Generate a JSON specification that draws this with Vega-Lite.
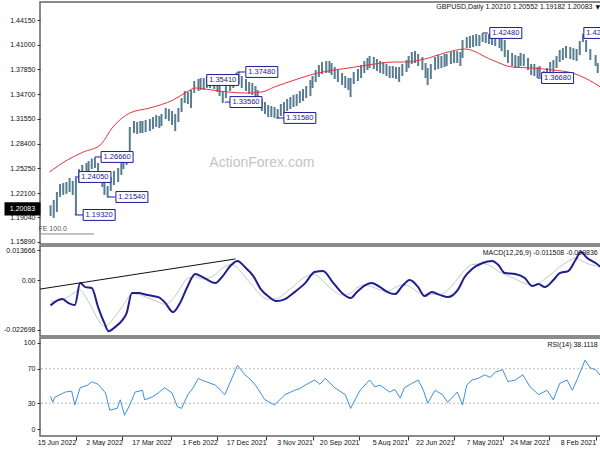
{
"$schema":"https://vega.github.io/schema/vega-lite/v6.json",
"padding":{"left":0,"top":1,"right":2,"bottom":0},
"background":"white",
"spacing":2,
"bounds":"flush",
"config":{"view":{"stroke":"#666666","strokeWidth":1.5},"font":"Liberation Sans","axis":{"labelFont":"Liberation Sans","labelFontSize":7,"labelColor":"#111111","tickColor":"#333333","tickSize":3,"domain":false,"grid":false,"labelPadding":2,"labelOverlap":false,"minExtent":35,"maxExtent":35}},
"datasets":{
"price":[
{"d":"2021-02-02","h":1.3791,"l":1.3638},{"d":"2021-02-06","h":1.3867,"l":1.3740},{"d":"2021-02-08","h":1.3969,"l":1.3829},{"d":"2021-02-13","h":1.4046,"l":1.3906},{"d":"2021-02-17","h":1.4160,"l":1.4008},{"d":"2021-02-20","h":1.4240,"l":1.4135},{"d":"2021-02-23","h":1.4148,"l":1.3969},{"d":"2021-02-26","h":1.4046,"l":1.3893},{"d":"2021-03-01","h":1.4058,"l":1.3906},{"d":"2021-03-04","h":1.4071,"l":1.3918},{"d":"2021-03-08","h":1.4084,"l":1.3931},{"d":"2021-03-11","h":1.4058,"l":1.3906},{"d":"2021-03-14","h":1.4033,"l":1.3880},{"d":"2021-03-17","h":1.3957,"l":1.3804},{"d":"2021-03-20","h":1.3906,"l":1.3753},{"d":"2021-03-23","h":1.3880,"l":1.3727},{"d":"2021-03-26","h":1.3804,"l":1.3664},{"d":"2021-03-29","h":1.3765,"l":1.3669},{"d":"2021-04-02","h":1.3829,"l":1.3689},{"d":"2021-04-04","h":1.3816,"l":1.3676},{"d":"2021-04-07","h":1.3855,"l":1.3702},{"d":"2021-04-10","h":1.3855,"l":1.3715},{"d":"2021-04-13","h":1.3931,"l":1.3778},{"d":"2021-04-17","h":1.3982,"l":1.3829},{"d":"2021-04-20","h":1.3995,"l":1.3829},{"d":"2021-04-22","h":1.3957,"l":1.3804},{"d":"2021-04-25","h":1.3969,"l":1.3804},{"d":"2021-04-28","h":1.3995,"l":1.3829},{"d":"2021-05-02","h":1.4033,"l":1.3867},{"d":"2021-05-05","h":1.4160,"l":1.3944},{"d":"2021-05-08","h":1.4173,"l":1.4020},{"d":"2021-05-10","h":1.4211,"l":1.4058},{"d":"2021-05-14","h":1.4237,"l":1.4084},{"d":"2021-05-17","h":1.4230,"l":1.4097},{"d":"2021-05-20","h":1.4237,"l":1.4109},{"d":"2021-05-23","h":1.4237,"l":1.4122},{"d":"2021-05-26","h":1.4248,"l":1.4135},{"d":"2021-05-29","h":1.4224,"l":1.4084},{"d":"2021-06-01","h":1.4237,"l":1.4084},{"d":"2021-06-04","h":1.4224,"l":1.4071},{"d":"2021-06-07","h":1.4211,"l":1.4058},{"d":"2021-06-10","h":1.4199,"l":1.4058},{"d":"2021-06-14","h":1.4160,"l":1.3931},{"d":"2021-06-16","h":1.4008,"l":1.3829},{"d":"2021-06-19","h":1.4020,"l":1.3867},{"d":"2021-06-22","h":1.4020,"l":1.3867},{"d":"2021-06-25","h":1.4008,"l":1.3855},{"d":"2021-06-29","h":1.3982,"l":1.3829},{"d":"2021-07-01","h":1.3982,"l":1.3816},{"d":"2021-07-04","h":1.3957,"l":1.3804},{"d":"2021-07-07","h":1.3969,"l":1.3791},{"d":"2021-07-10","h":1.3944,"l":1.3778},{"d":"2021-07-14","h":1.3855,"l":1.3664},{"d":"2021-07-17","h":1.3804,"l":1.3587},{"d":"2021-07-19","h":1.3867,"l":1.3676},{"d":"2021-07-22","h":1.3944,"l":1.3778},{"d":"2021-07-26","h":1.3982,"l":1.3829},{"d":"2021-07-29","h":1.4020,"l":1.3867},{"d":"2021-08-01","h":1.4008,"l":1.3855},{"d":"2021-08-04","h":1.3957,"l":1.3804},{"d":"2021-08-06","h":1.3906,"l":1.3753},{"d":"2021-08-10","h":1.3855,"l":1.3702},{"d":"2021-08-13","h":1.3816,"l":1.3625},{"d":"2021-08-16","h":1.3816,"l":1.3664},{"d":"2021-08-19","h":1.3829,"l":1.3676},{"d":"2021-08-22","h":1.3829,"l":1.3676},{"d":"2021-08-25","h":1.3855,"l":1.3702},{"d":"2021-08-28","h":1.3880,"l":1.3727},{"d":"2021-08-31","h":1.3893,"l":1.3740},{"d":"2021-09-03","h":1.3918,"l":1.3765},{"d":"2021-09-06","h":1.3944,"l":1.3791},{"d":"2021-09-10","h":1.3957,"l":1.3804},{"d":"2021-09-12","h":1.3931,"l":1.3778},{"d":"2021-09-15","h":1.3893,"l":1.3740},{"d":"2021-09-18","h":1.3842,"l":1.3676},{"d":"2021-09-21","h":1.3791,"l":1.3638},{"d":"2021-09-25","h":1.3753,"l":1.3600},{"d":"2021-09-28","h":1.3676,"l":1.3434},{"d":"2021-09-30","h":1.3676,"l":1.3523},{"d":"2021-10-03","h":1.3702,"l":1.3549},{"d":"2021-10-06","h":1.3740,"l":1.3587},{"d":"2021-10-10","h":1.3778,"l":1.3625},{"d":"2021-10-13","h":1.3816,"l":1.3664},{"d":"2021-10-16","h":1.3867,"l":1.3715},{"d":"2021-10-18","h":1.3893,"l":1.3740},{"d":"2021-10-21","h":1.3893,"l":1.3740},{"d":"2021-10-25","h":1.3880,"l":1.3727},{"d":"2021-10-28","h":1.3842,"l":1.3689},{"d":"2021-10-31","h":1.3778,"l":1.3625},{"d":"2021-11-03","h":1.3702,"l":1.3549},{"d":"2021-11-05","h":1.3651,"l":1.3447},{"d":"2021-11-09","h":1.3574,"l":1.3421},{"d":"2021-11-12","h":1.3536,"l":1.3383},{"d":"2021-11-15","h":1.3511,"l":1.3358},{"d":"2021-11-18","h":1.3472,"l":1.3320},{"d":"2021-11-21","h":1.3460,"l":1.3307},{"d":"2021-11-24","h":1.3434,"l":1.3281},{"d":"2021-11-27","h":1.3409,"l":1.3256},{"d":"2021-11-30","h":1.3370,"l":1.3218},{"d":"2021-12-03","h":1.3345,"l":1.3192},{"d":"2021-12-06","h":1.3281,"l":1.3160},{"d":"2021-12-09","h":1.3307,"l":1.3167},{"d":"2021-12-12","h":1.3320,"l":1.3179},{"d":"2021-12-15","h":1.3332,"l":1.3179},{"d":"2021-12-18","h":1.3370,"l":1.3218},{"d":"2021-12-21","h":1.3409,"l":1.3256},{"d":"2021-12-25","h":1.3523,"l":1.3370},{"d":"2021-12-27","h":1.3574,"l":1.3421},{"d":"2021-12-30","h":1.3613,"l":1.3460},{"d":"2022-01-02","h":1.3625,"l":1.3472},{"d":"2022-01-05","h":1.3664,"l":1.3511},{"d":"2022-01-09","h":1.3702,"l":1.3549},{"d":"2022-01-12","h":1.3753,"l":1.3600},{"d":"2022-01-14","h":1.3748,"l":1.3651},{"d":"2022-01-17","h":1.3702,"l":1.3549},{"d":"2022-01-20","h":1.3664,"l":1.3511},{"d":"2022-01-24","h":1.3574,"l":1.3421},{"d":"2022-01-27","h":1.3511,"l":1.3358},{"d":"2022-01-30","h":1.3600,"l":1.3447},{"d":"2022-02-01","h":1.3651,"l":1.3498},{"d":"2022-02-04","h":1.3689,"l":1.3536},{"d":"2022-02-08","h":1.3702,"l":1.3549},{"d":"2022-02-11","h":1.3702,"l":1.3549},{"d":"2022-02-14","h":1.3676,"l":1.3523},{"d":"2022-02-17","h":1.3676,"l":1.3523},{"d":"2022-02-19","h":1.3664,"l":1.3511},{"d":"2022-02-23","h":1.3638,"l":1.3485},{"d":"2022-02-26","h":1.3523,"l":1.3294},{"d":"2022-03-01","h":1.3498,"l":1.3345},{"d":"2022-03-04","h":1.3511,"l":1.3358},{"d":"2022-03-07","h":1.3421,"l":1.3243},{"d":"2022-03-10","h":1.3294,"l":1.3116},{"d":"2022-03-13","h":1.3218,"l":1.3000},{"d":"2022-03-16","h":1.3256,"l":1.3078},{"d":"2022-03-19","h":1.3281,"l":1.3129},{"d":"2022-03-22","h":1.3294,"l":1.3154},{"d":"2022-03-26","h":1.3218,"l":1.3065},{"d":"2022-03-28","h":1.3192,"l":1.3039},{"d":"2022-03-31","h":1.3205,"l":1.3052},{"d":"2022-04-03","h":1.3179,"l":1.3027},{"d":"2022-04-06","h":1.3154,"l":1.3001},{"d":"2022-04-10","h":1.3142,"l":1.2988},{"d":"2022-04-13","h":1.3129,"l":1.2976},{"d":"2022-04-15","h":1.3129,"l":1.2976},{"d":"2022-04-18","h":1.3116,"l":1.2963},{"d":"2022-04-21","h":1.3129,"l":1.2976},{"d":"2022-04-25","h":1.3052,"l":1.2721},{"d":"2022-04-28","h":1.2746,"l":1.2568},{"d":"2022-05-01","h":1.2695,"l":1.2517},{"d":"2022-05-03","h":1.2619,"l":1.2441},{"d":"2022-05-06","h":1.2530,"l":1.2351},{"d":"2022-05-10","h":1.2491,"l":1.2313},{"d":"2022-05-13","h":1.2415,"l":1.2237},{"d":"2022-05-16","h":1.2300,"l":1.2155},{"d":"2022-05-19","h":1.2364,"l":1.2186},{"d":"2022-05-21","h":1.2466,"l":1.2288},{"d":"2022-05-25","h":1.2593,"l":1.2415},{"d":"2022-05-28","h":1.2666,"l":1.2530},{"d":"2022-05-31","h":1.2650,"l":1.2517},{"d":"2022-06-03","h":1.2619,"l":1.2441},{"d":"2022-06-05","h":1.2593,"l":1.2415},{"d":"2022-06-09","h":1.2568,"l":1.2390},{"d":"2022-06-12","h":1.2517,"l":1.2339},{"d":"2022-06-15","h":1.2405,"l":1.1932},{"d":"2022-06-18","h":1.2364,"l":1.2186},{"d":"2022-06-21","h":1.2402,"l":1.2224},{"d":"2022-06-24","h":1.2351,"l":1.2199},{"d":"2022-06-27","h":1.2339,"l":1.2186},{"d":"2022-06-30","h":1.2326,"l":1.2160},{"d":"2022-07-03","h":1.2224,"l":1.1969},{"d":"2022-07-06","h":1.2122,"l":1.1893},{"d":"2022-07-09","h":1.2055,"l":1.1918}
],
"ma":[
{"d":"2021-02-02","v":1.3549},{"d":"2021-02-18","v":1.3676},{"d":"2021-03-02","v":1.3740},{"d":"2021-03-21","v":1.3778},{"d":"2021-04-09","v":1.3804},{"d":"2021-04-28","v":1.3816},{"d":"2021-05-17","v":1.3906},{"d":"2021-06-12","v":1.4046},{"d":"2021-07-01","v":1.3995},{"d":"2021-07-20","v":1.3918},{"d":"2021-08-08","v":1.3880},{"d":"2021-08-18","v":1.3880},{"d":"2021-09-05","v":1.3855},{"d":"2021-09-24","v":1.3816},{"d":"2021-10-13","v":1.3778},{"d":"2021-10-29","v":1.3740},{"d":"2021-11-20","v":1.3651},{"d":"2021-12-09","v":1.3562},{"d":"2021-12-21","v":1.3498},{"d":"2022-01-06","v":1.3485},{"d":"2022-01-22","v":1.3498},{"d":"2022-02-06","v":1.3523},{"d":"2022-02-22","v":1.3549},{"d":"2022-03-02","v":1.3498},{"d":"2022-03-15","v":1.3396},{"d":"2022-04-06","v":1.3294},{"d":"2022-04-25","v":1.3230},{"d":"2022-05-11","v":1.3052},{"d":"2022-05-23","v":1.2822},{"d":"2022-06-08","v":1.2733},{"d":"2022-06-23","v":1.2632},{"d":"2022-07-10","v":1.2479}
],
"macd":[
{"d":"2021-02-02","m":0.00547,"s":0.0060},{"d":"2021-02-08","m":0.00774,"s":0.0065},{"d":"2021-02-16","m":0.01002,"s":0.0075},{"d":"2021-02-22","m":0.01276,"s":0.0090},{"d":"2021-02-27","m":0.00911,"s":0.0100},{"d":"2021-03-06","m":0.00410,"s":0.0085},{"d":"2021-03-14","m":0.00319,"s":0.0060},{"d":"2021-03-20","m":0.0,"s":0.0035},{"d":"2021-03-28","m":-0.00319,"s":0.0005},{"d":"2021-04-03","m":-0.00182,"s":-0.0015},{"d":"2021-04-09","m":-0.00273,"s":-0.0022},{"d":"2021-04-16","m":0.00091,"s":-0.0015},{"d":"2021-04-25","m":0.00273,"s":0.0005},{"d":"2021-05-05","m":0.00319,"s":0.0025},{"d":"2021-05-11","m":0.00683,"s":0.0040},{"d":"2021-05-17","m":0.00866,"s":0.0060},{"d":"2021-05-26","m":0.00774,"s":0.0075},{"d":"2021-06-05","m":0.00501,"s":0.0070},{"d":"2021-06-12","m":0.00137,"s":0.0045},{"d":"2021-06-18","m":-0.00410,"s":0.0010},{"d":"2021-06-28","m":-0.00774,"s":-0.0045},{"d":"2021-07-05","m":-0.00683,"s":-0.0065},{"d":"2021-07-13","m":-0.00547,"s":-0.0065},{"d":"2021-07-20","m":-0.00729,"s":-0.0065},{"d":"2021-07-26","m":-0.00319,"s":-0.0055},{"d":"2021-08-03","m":0.0,"s":-0.0030},{"d":"2021-08-10","m":-0.00273,"s":-0.0020},{"d":"2021-08-17","m":-0.00638,"s":-0.0035},{"d":"2021-08-24","m":-0.00547,"s":-0.0050},{"d":"2021-08-31","m":-0.00319,"s":-0.0045},{"d":"2021-09-08","m":-0.00137,"s":-0.0030},{"d":"2021-09-14","m":-0.00228,"s":-0.0022},{"d":"2021-09-22","m":-0.00547,"s":-0.0035},{"d":"2021-09-28","m":-0.00820,"s":-0.0060},{"d":"2021-10-06","m":-0.00592,"s":-0.0068},{"d":"2021-10-15","m":-0.00091,"s":-0.0045},{"d":"2021-10-24","m":0.00410,"s":-0.0005},{"d":"2021-11-01","m":0.00365,"s":0.0025},{"d":"2021-11-10","m":-0.00137,"s":0.0015},{"d":"2021-11-20","m":-0.00547,"s":-0.0025},{"d":"2021-11-29","m":-0.00866,"s":-0.0060},{"d":"2021-12-07","m":-0.00957,"s":-0.0085},{"d":"2021-12-14","m":-0.00774,"s":-0.0088},{"d":"2021-12-22","m":-0.00410,"s":-0.0070},{"d":"2021-12-29","m":0.00182,"s":-0.0030},{"d":"2022-01-06","m":0.00592,"s":0.0015},{"d":"2022-01-13","m":0.00866,"s":0.0055},{"d":"2022-01-19","m":0.00683,"s":0.0070},{"d":"2022-01-27","m":0.00182,"s":0.0055},{"d":"2022-02-03","m":-0.00137,"s":0.0025},{"d":"2022-02-15","m":0.00137,"s":0.0005},{"d":"2022-02-22","m":0.00273,"s":0.0015},{"d":"2022-03-02","m":-0.00364,"s":0.0005},{"d":"2022-03-08","m":-0.01002,"s":-0.0035},{"d":"2022-03-15","m":-0.01458,"s":-0.0085},{"d":"2022-03-23","m":-0.01002,"s":-0.0110},{"d":"2022-03-29","m":-0.00774,"s":-0.0100},{"d":"2022-04-08","m":-0.00683,"s":-0.0080},{"d":"2022-04-17","m":-0.00592,"s":-0.0065},{"d":"2022-04-23","m":-0.00592,"s":-0.0062},{"d":"2022-04-28","m":-0.01503,"s":-0.0090},{"d":"2022-05-02","m":-0.01822,"s":-0.0120},{"d":"2022-05-09","m":-0.02141,"s":-0.0165},{"d":"2022-05-15","m":-0.02323,"s":-0.0200},{"d":"2022-05-19","m":-0.01959,"s":-0.0210},{"d":"2022-05-25","m":-0.01230,"s":-0.0180},{"d":"2022-05-31","m":-0.00364,"s":-0.0125},{"d":"2022-06-06","m":-0.00319,"s":-0.0075},{"d":"2022-06-11","m":-0.00137,"s":-0.0045},{"d":"2022-06-16","m":-0.01139,"s":-0.0055},{"d":"2022-06-22","m":-0.01048,"s":-0.0075},{"d":"2022-06-28","m":-0.00866,"s":-0.0090},{"d":"2022-07-05","m":-0.01002,"s":-0.0095},{"d":"2022-07-09","m":-0.011508,"s":-0.009836}
],
"rsi":[
{"d":"2021-02-02","v":60},{"d":"2021-02-08","v":69},{"d":"2021-02-13","v":71},{"d":"2021-02-18","v":80},{"d":"2021-02-25","v":59},{"d":"2021-03-02","v":45},{"d":"2021-03-07","v":57},{"d":"2021-03-14","v":53},{"d":"2021-03-20","v":34},{"d":"2021-03-26","v":45},{"d":"2021-04-03","v":40},{"d":"2021-04-11","v":49},{"d":"2021-04-18","v":63},{"d":"2021-04-25","v":57},{"d":"2021-05-02","v":55},{"d":"2021-05-07","v":69},{"d":"2021-05-14","v":66},{"d":"2021-05-19","v":60},{"d":"2021-05-24","v":63},{"d":"2021-05-30","v":59},{"d":"2021-06-05","v":57},{"d":"2021-06-10","v":51},{"d":"2021-06-14","v":28},{"d":"2021-06-19","v":43},{"d":"2021-06-28","v":31},{"d":"2021-07-03","v":40},{"d":"2021-07-10","v":45},{"d":"2021-07-17","v":30},{"d":"2021-07-21","v":45},{"d":"2021-07-26","v":57},{"d":"2021-08-01","v":53},{"d":"2021-08-08","v":48},{"d":"2021-08-12","v":36},{"d":"2021-08-17","v":46},{"d":"2021-08-22","v":43},{"d":"2021-08-31","v":51},{"d":"2021-09-05","v":49},{"d":"2021-09-10","v":57},{"d":"2021-09-19","v":45},{"d":"2021-09-28","v":24},{"d":"2021-10-03","v":40},{"d":"2021-10-13","v":48},{"d":"2021-10-22","v":59},{"d":"2021-10-27","v":52},{"d":"2021-11-01","v":57},{"d":"2021-11-10","v":51},{"d":"2021-11-15","v":47},{"d":"2021-11-20","v":45},{"d":"2021-11-29","v":40},{"d":"2021-12-09","v":28},{"d":"2021-12-18","v":34},{"d":"2021-12-27","v":51},{"d":"2022-01-01","v":58},{"d":"2022-01-06","v":63},{"d":"2022-01-13","v":74},{"d":"2022-01-25","v":40},{"d":"2022-02-03","v":51},{"d":"2022-02-16","v":57},{"d":"2022-02-19","v":59},{"d":"2022-02-24","v":48},{"d":"2022-03-01","v":40},{"d":"2022-03-07","v":24},{"d":"2022-03-11","v":26},{"d":"2022-03-16","v":42},{"d":"2022-03-23","v":48},{"d":"2022-03-29","v":42},{"d":"2022-04-04","v":37},{"d":"2022-04-11","v":34},{"d":"2022-04-13","v":45},{"d":"2022-04-20","v":43},{"d":"2022-04-25","v":28},{"d":"2022-04-30","v":16},{"d":"2022-05-04","v":34},{"d":"2022-05-07","v":24},{"d":"2022-05-14","v":22},{"d":"2022-05-18","v":42},{"d":"2022-05-25","v":52},{"d":"2022-05-31","v":55},{"d":"2022-06-04","v":51},{"d":"2022-06-11","v":48},{"d":"2022-06-16","v":28},{"d":"2022-06-19","v":44},{"d":"2022-06-25","v":43},{"d":"2022-06-30","v":40},{"d":"2022-07-05","v":37},{"d":"2022-07-07","v":31},{"d":"2022-07-09","v":38.1118}
],
"labels":[
{"d":"2021-02-04","p":1.4250,"t":"1.42400"},{"d":"2021-05-04","p":1.4250,"t":"1.42480"},{"d":"2021-03-16","p":1.3676,"t":"1.36680"},{"d":"2021-12-21","p":1.3753,"t":"1.37480"},{"d":"2022-01-27","p":1.3651,"t":"1.35410"},{"d":"2022-01-05","p":1.3370,"t":"1.33560"},{"d":"2021-11-15","p":1.3167,"t":"1.31580"},{"d":"2022-05-07","p":1.2670,"t":"1.26660"},{"d":"2022-05-28","p":1.2415,"t":"1.24050"},{"d":"2022-04-23","p":1.2160,"t":"1.21540"},{"d":"2022-05-24","p":1.1931,"t":"1.19320"}
],
"connectors":[
{"a":"2022-06-16","b":"2022-06-08","p":1.1931},{"a":"2022-05-16","b":"2022-05-09","p":1.2160},{"a":"2022-06-16","b":"2022-06-11","p":1.2415},{"a":"2022-05-28","b":"2022-05-21","p":1.2670},{"a":"2021-12-07","b":"2021-11-30","p":1.3167},{"a":"2022-01-25","b":"2022-01-20","p":1.3370},{"a":"2022-01-13","b":"2022-01-06","p":1.3753},{"a":"2021-05-26","b":"2021-05-21","p":1.4250},{"a":"2021-04-04","b":"2021-03-31","p":1.3676}
]
},
"vconcat":[
{"width":563,"height":242,
"layer":[
{"mark":{"type":"rule","color":"#a8a8a8","strokeWidth":1},"encoding":{"y":{"datum":1.20083,"type":"quantitative","title":null,"scale":{"domain":[1.1561,1.4645],"zero":false,"nice":false},"axis":{"values":[1.1589,1.1904,1.221,1.2525,1.284,1.3155,1.347,1.3785,1.41,1.4415],"tickCount":30,"format":".5f","labelOverlap":false}}}},
{"data":{"name":"price"},"mark":{"type":"rule","color":"#587d90","strokeWidth":2},
"encoding":{"x":{"field":"d","type":"temporal","title":null,"scale":{"type":"utc","domain":[{"year":2021,"month":2,"date":1,"utc":true},{"year":2022,"month":7,"date":19,"utc":true}],"reverse":true},"axis":null},
"y":{"field":"l","type":"quantitative","title":null,"scale":{"domain":[1.1561,1.4645],"zero":false,"nice":false},"axis":{"values":[1.1589,1.1904,1.221,1.2525,1.284,1.3155,1.347,1.3785,1.41,1.4415],"tickCount":30,"format":".5f","labelOverlap":false}},"y2":{"field":"h"}}},
{"data":{"name":"ma"},"mark":{"type":"line","color":"#e8323c","strokeWidth":1,"interpolate":"monotone"},"encoding":{"x":{"field":"d","type":"temporal"},"y":{"field":"v","type":"quantitative"}}},
{"data":{"values":[{"d1":"2022-07-19","d2":"2022-05-29","p":1.1689}]},"mark":{"type":"rule","color":"#888888","strokeWidth":1},"encoding":{"x":{"field":"d1","type":"temporal"},"x2":{"field":"d2"},"y":{"field":"p","type":"quantitative"}}},
{"data":{"values":[{"d":"2022-07-07","p":1.1753,"t":"FE 100.0"}]},"mark":{"type":"text","fontSize":7,"color":"#555555"},"encoding":{"x":{"field":"d","type":"temporal"},"y":{"field":"p","type":"quantitative"},"text":{"field":"t"}}},
{"data":{"values":[{"d":"2021-12-21","p":1.2593,"t":"ActionForex.com"}]},"mark":{"type":"text","fontSize":14,"color":"#c4c4c4","font":"Liberation Sans"},"encoding":{"x":{"field":"d","type":"temporal"},"y":{"field":"p","type":"quantitative"},"text":{"field":"t"}}},
{"data":{"name":"connectors"},"mark":{"type":"rule","color":"#1c1c96","strokeWidth":1},"encoding":{"x":{"field":"a","type":"temporal"},"x2":{"field":"b"},"y":{"field":"p","type":"quantitative"}}},
{"data":{"name":"labels"},"mark":{"type":"point","shape":"M-1,-0.34L1,-0.34L1,0.34L-1,0.34Z","size":1024,"filled":true,"fill":"white","stroke":"#1c1c96","strokeWidth":1,"opacity":1,"clip":true},"encoding":{"x":{"field":"d","type":"temporal"},"y":{"field":"p","type":"quantitative"}}},
{"data":{"name":"labels"},"mark":{"type":"text","fontSize":7.5,"color":"#1c1c96","clip":true},"encoding":{"x":{"field":"d","type":"temporal"},"y":{"field":"p","type":"quantitative"},"text":{"field":"t"}}},
{"data":{"values":[{"d":"2021-02-11","p":1.4581,"t":"GBPUSD,Daily  1.20210 1.20552 1.19182 1.20083"}]},"mark":{"type":"text","fontSize":7,"color":"#111111","align":"right"},"encoding":{"x":{"field":"d","type":"temporal"},"y":{"field":"p","type":"quantitative"},"text":{"field":"t"}}},
{"data":{"values":[{"d":"2021-02-06","p":1.4581,"t":"▼"}]},"mark":{"type":"text","fontSize":6,"color":"#111111","font":"DejaVu Sans"},"encoding":{"x":{"field":"d","type":"temporal"},"y":{"field":"p","type":"quantitative"},"text":{"field":"t"}}},
{"data":{"values":[{"d":"2022-07-19","p":1.20083,"t":"1.20083"}]},"mark":{"type":"point","shape":"M-1,-0.33L1,-0.33L1,0.33L-1,0.33Z","size":1156,"filled":true,"fill":"black","stroke":"black","opacity":1,"xOffset":-17.5},"encoding":{"x":{"field":"d","type":"temporal"},"y":{"field":"p","type":"quantitative"}}},
{"data":{"values":[{"d":"2022-07-19","p":1.20083,"t":"1.20083"}]},"mark":{"type":"text","fontSize":7,"color":"white","dx":-17.5},"encoding":{"x":{"field":"d","type":"temporal"},"y":{"field":"p","type":"quantitative"},"text":{"field":"t"}}}
]},
{"width":563,"height":90,
"layer":[
{"mark":{"type":"rule","color":"#bbbbbb","strokeDash":[2,2],"strokeWidth":1},"encoding":{"y":{"datum":0,"type":"quantitative","title":null,"scale":{"domain":[-0.02543,0.01549],"zero":false,"nice":false},"axis":{"values":[-0.022698,0,0.013666],"tickCount":30,"labelOverlap":false,"labelExpr":"datum.value > 0.01 ? '0.013666' : (datum.value < -0.01 ? '-0.022698' : '0.00')"}}}},
{"data":{"name":"macd"},"mark":{"type":"line","color":"#c6c6c6","strokeWidth":1,"interpolate":"monotone"},"encoding":{"x":{"field":"d","type":"temporal","title":null,"scale":{"type":"utc","domain":[{"year":2021,"month":2,"date":1,"utc":true},{"year":2022,"month":7,"date":19,"utc":true}],"reverse":true},"axis":null},"y":{"field":"s","type":"quantitative"}}},
{"data":{"name":"macd"},"mark":{"type":"line","color":"#1f1f8f","strokeWidth":2,"interpolate":"monotone"},"encoding":{"x":{"field":"d","type":"temporal"},"y":{"field":"m","type":"quantitative","title":null,"scale":{"domain":[-0.02543,0.01549],"zero":false,"nice":false},"axis":{"values":[-0.022698,0,0.013666],"tickCount":30,"labelOverlap":false,"labelExpr":"datum.value > 0.01 ? '0.013666' : (datum.value < -0.01 ? '-0.022698' : '0.00')"}}}},
{"data":{"values":[{"d":"2022-07-19","v":-0.0041},{"d":"2022-01-15","v":0.0096}]},"mark":{"type":"line","color":"#111111","strokeWidth":1},"encoding":{"x":{"field":"d","type":"temporal"},"y":{"field":"v","type":"quantitative"}}},
{"data":{"values":[{"d":"2021-02-06","v":0.0123,"t":"MACD(12,26,9) -0.011508 -0.009836"}]},"mark":{"type":"text","fontSize":7,"color":"#111111","align":"right"},"encoding":{"x":{"field":"d","type":"temporal"},"y":{"field":"v","type":"quantitative"},"text":{"field":"t"}}}
]},
{"width":563,"height":98,
"layer":[
{"data":{"values":[{"v":70},{"v":30}]},"mark":{"type":"rule","color":"#bbbbbb","strokeDash":[2,2],"strokeWidth":1},"encoding":{"y":{"field":"v","type":"quantitative","title":null,"scale":{"domain":[-8.1,105.8],"zero":false,"nice":false},"axis":{"values":[0,30,70,100],"tickCount":30,"labelOverlap":false}}}},
{"data":{"name":"rsi"},"mark":{"type":"line","color":"#3c8fe0","strokeWidth":1},"encoding":{"x":{"field":"d","type":"temporal","title":null,"scale":{"type":"utc","domain":[{"year":2021,"month":2,"date":1,"utc":true},{"year":2022,"month":7,"date":19,"utc":true}],"reverse":true},
"axis":{"values":[{"year":2021,"month":2,"date":8,"utc":true},{"year":2021,"month":3,"date":24,"utc":true},{"year":2021,"month":5,"date":7,"utc":true},{"year":2021,"month":6,"date":22,"utc":true},{"year":2021,"month":8,"date":5,"utc":true},{"year":2021,"month":9,"date":20,"utc":true},{"year":2021,"month":11,"date":3,"utc":true},{"year":2021,"month":12,"date":17,"utc":true},{"year":2022,"month":2,"date":1,"utc":true},{"year":2022,"month":3,"date":17,"utc":true},{"year":2022,"month":5,"date":2,"utc":true},{"year":2022,"month":6,"date":15,"utc":true}],"tickCount":30,"labelExpr":"utcFormat(datum.value, '%-d %b %Y')","labelAlign":"right","labelBaseline":"top","labelPadding":-2,"labelDx":-1,"tickSize":4,"labelFlush":false,"labelOverlap":false,"labelBound":false,"minExtent":8,"maxExtent":8}},
"y":{"field":"v","type":"quantitative","title":null,"scale":{"domain":[-8.1,105.8],"zero":false,"nice":false},"axis":{"values":[0,30,70,100],"tickCount":30,"labelOverlap":false}}}},
{"data":{"values":[{"d":"2021-02-06","v":97.7,"t":"RSI(14) 38.1118"}]},"mark":{"type":"text","fontSize":7,"color":"#111111","align":"right"},"encoding":{"x":{"field":"d","type":"temporal"},"y":{"field":"v","type":"quantitative"},"text":{"field":"t"}}}
]}
]
}
